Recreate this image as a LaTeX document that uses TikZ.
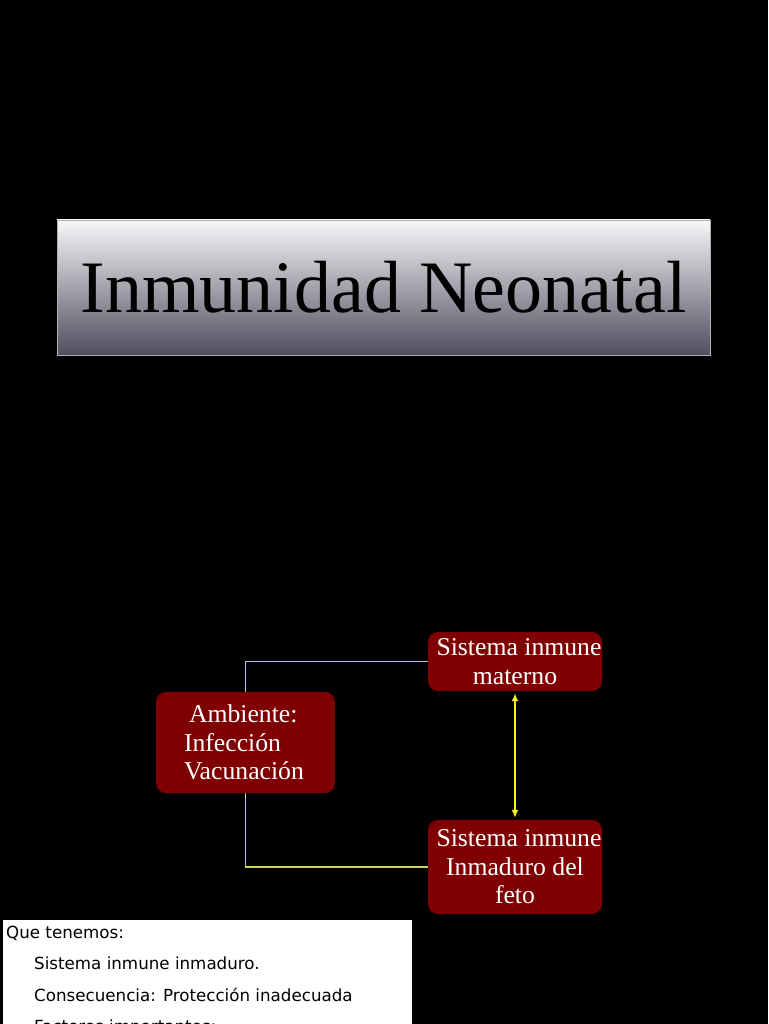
\documentclass[tikz,border=0pt]{standalone}
\usepackage{fontspec}
\setmainfont{Liberation Serif}
\newfontfamily\tahomalike{DejaVu Sans}
\usetikzlibrary{arrows.meta}
\definecolor{boxred}{HTML}{7F0000}
\definecolor{linkcol}{HTML}{D0D060}
\definecolor{arrowyel}{HTML}{F0F020}
\definecolor{titletop}{HTML}{F7F7F9}
\definecolor{titlebot}{HTML}{4E4E5E}
\tikzset{
  redbox/.style={draw=none, fill=boxred, rounded corners=10pt, text=white,
    font=\fontsize{25.7}{28.5}\selectfont, inner sep=0pt, align=center},
  link/.style={draw=linkcol, line width=1.2pt},
  dblarrow/.style={draw=arrowyel, line width=2pt, {Latex[length=8pt,width=7pt]}-{Latex[length=8pt,width=7pt]}, shorten <=2pt, shorten >=2pt},
  notetext/.style={anchor=base west, inner sep=0pt, text=black, font=\tahomalike\fontsize{16.7}{20}\selectfont}
}
\begin{document}
\begin{tikzpicture}[x=1pt,y=-1pt]
\useasboundingbox (0,0) rectangle (768,1024);
\clip (0,0) rectangle (768,1024);
\fill[black] (0,0) rectangle (768,1024);
% title
\node[minimum width=653pt, minimum height=135pt, inner sep=0pt, top color=titletop, bottom color=titlebot, draw=gray!60, line width=0.5pt, font=\fontsize{74}{80}\selectfont, text=black] (title) at (383.5,287.5) {Inmunidad Neonatal};
% boxes
\node[redbox, minimum width=179pt, minimum height=101pt, text width=123pt, align=left] (amb) at (245.5,742.5) {\hspace*{5pt}Ambiente:\\Infección\\ Vacunación};
\node[redbox, minimum width=174pt, minimum height=59pt] (mat) at (515,661.5) {\hspace*{8pt}Sistema inmune\\materno};
\node[redbox, minimum width=174pt, minimum height=94pt] (feto) at (515,867) {\hspace*{8pt}Sistema inmune\\Inmaduro del\\feto};
% connectors
\draw[link] (amb.north) |- (mat.west);
\draw[link] (amb.south) |- (feto.west);
\draw[dblarrow] (mat.south) -- (feto.north);
% note box
\node[fill=white, minimum width=409pt, minimum height=140pt, inner sep=0pt, anchor=north west] (note) at (3,920) {};
\node[notetext] (q) at (6,938) {Que tenemos:};
\node[notetext] (s1) at (34,969.5) {Sistema inmune inmaduro.};
\node[notetext] (s2) at (34,1001) {Consecuencia: Protección inadecuada};
\node[notetext] (s3) at (34,1032) {Factores importantes:};
\end{tikzpicture}
\end{document}
